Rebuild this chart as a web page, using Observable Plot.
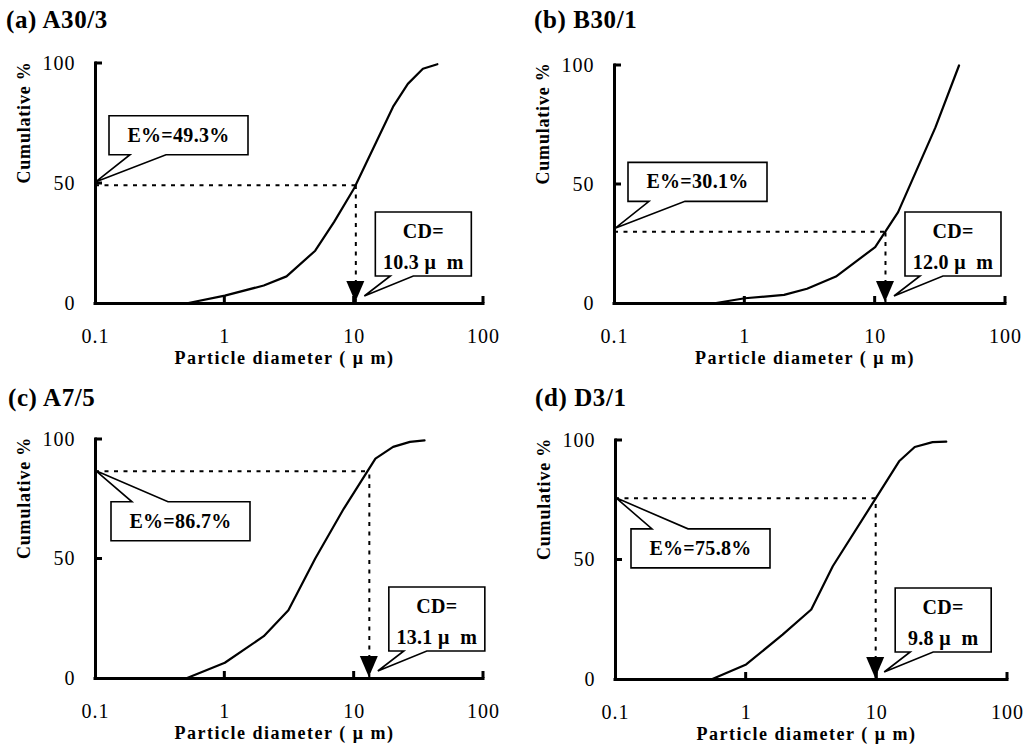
<!DOCTYPE html>
<html><head><meta charset="utf-8">
<script src="https://cdn.jsdelivr.net/npm/d3@7"></script>
<script src="https://cdn.jsdelivr.net/npm/@observablehq/plot@0.6"></script>
<style>
body{margin:0;background:#fff;}
#wrap{position:relative;width:1025px;height:752px;overflow:hidden;background:#fff;}
.panel{position:absolute;}
.ptitle{position:absolute;font-family:"Liberation Serif",serif;font-weight:bold;font-size:25px;line-height:24px;letter-spacing:0.6px;white-space:nowrap;color:#000;}
</style></head><body><div id="wrap"></div>
<script>
// ---- data ----
const panelLabels = ["(a) A30/3", "(b) B30/1", "(c) A7/5", "(d) D3/1"];
const diamA = [0.5, 1, 2, 3, 5, 7, 10, 20, 26, 34, 44];
const cumA  = [0, 3.3, 7.5, 11.3, 22, 34, 48, 82, 91.5, 97.8, 99.7];
const diamB = [0.57, 1, 2, 3, 5, 10, 15, 29, 44];
const cumB  = [0, 2.2, 3.6, 6.2, 11.3, 23.7, 38.4, 74, 100];
const diamC = [0.5, 1, 2, 3.1, 5, 8.3, 14.6, 20, 27, 35];
const cumC  = [0, 6.6, 17.7, 28.6, 50.2, 71, 92, 96.9, 99, 99.6];
const diamD = [0.54, 1, 1.9, 3.15, 4.6, 10, 14.8, 19.5, 26.7, 34];
const cumD  = [0, 6.3, 18.8, 29.3, 47.4, 76.5, 91.3, 97.3, 99.3, 99.5];
const ePercent = [49.3, 30.1, 86.7, 75.8];
const cdValues = [10.3, 12.0, 13.1, 9.8];
const xTicks = [0.1, 1, 10, 100];
const xInnerTicks = [1, 10, 100];
const yTicks = [0, 50, 100];
const yInnerTicks = [50, 100];
const xTitle = "Particle diameter ( \u03bc m)";
const yTitle = "Cumulative %";

const diams = [diamA, diamB, diamC, diamD];
const cums = [cumA, cumB, cumC, cumD];

// ---- layout ----
const layouts = [
  {left: 0,   top: 0,   width: 512, mL: 95,  mR: 29, mT: 63, mB: 73, tX: 6,  tY: 8,  eAbove: true},
  {left: 512, top: 0,   width: 513, mL: 102, mR: 20, mT: 65, mB: 73, tX: 22, tY: 8,  eAbove: true},
  {left: 0,   top: 376, width: 512, mL: 95,  mR: 29, mT: 63, mB: 74, tX: 8,  tY: 10, eAbove: false},
  {left: 512, top: 376, width: 513, mL: 103, mR: 18, mT: 64, mB: 73, tX: 23, tY: 10, eAbove: false}
];
// offsets in px relative to the callout tip; text baselines relative to box top
const eGeoAbove = {tip: [1, -3], bx: [13, 152], by: [-66, -27], tail: [34, 70], base: [26]};
const eGeoBelow = {tip: [1, 0], bx: [15, 154], by: [31, 70], tail: [36, 72], base: [26]};
const cdGeo = {tip: [9, -7], bx: [11, 107], by: [-84, -20], tail: [26, 49], base: [26, 57]};

function calloutMark(xv, yv, geo, lines) {
  return (index, {x, y}) => {
    const tx = x(xv) + geo.tip[0], ty = y(yv) + geo.tip[1];
    const [bx1, bx2] = geo.bx, [by1, by2] = geo.by, [t1, t2] = geo.tail;
    const pts = by2 < 0
      ? [[bx1, by1], [bx2, by1], [bx2, by2], [t2, by2], [0, 0], [t1, by2], [bx1, by2]]
      : [[bx1, by1], [t1, by1], [0, 0], [t2, by1], [bx2, by1], [bx2, by2], [bx1, by2]];
    const g = d3.create("svg:g").attr("transform", `translate(${tx},${ty})`);
    g.append("path")
      .attr("d", "M" + pts.map(p => p.join(",")).join("L") + "Z")
      .attr("fill", "white").attr("stroke", "black").attr("stroke-width", 1.6)
      .attr("stroke-linejoin", "miter");
    const cx = (bx1 + bx2) / 2;
    lines.forEach((s, i) => {
      g.append("text").attr("x", cx).attr("y", by1 + geo.base[i])
        .attr("text-anchor", "middle")
        .attr("font-family", "Liberation Serif, serif")
        .attr("font-weight", "bold").attr("font-size", 20)
        .attr("letter-spacing", "0.3px")
        .style("white-space", "pre")
        .text(s);
    });
    return g.node();
  };
}

function arrowHead(xv) {
  return (index, {x, y}) => {
    const px = x(xv), py = y(0) - 1;
    return d3.create("svg:path")
      .attr("d", `M${px - 9},${py - 21}L${px + 9},${py - 21}L${px},${py}Z`)
      .attr("fill", "black").node();
  };
}

// inward-pointing tick marks on both axes
function innerTicks(xs, ys, len) {
  return (index, {x, y}) => {
    const g = d3.create("svg:g").attr("stroke", "black").attr("stroke-width", 3);
    const x0 = x(0.1), y0 = y(0);
    xs.forEach(v => g.append("line").attr("x1", x(v)).attr("x2", x(v)).attr("y1", y0).attr("y2", y0 - len));
    ys.forEach(v => g.append("line").attr("y1", y(v)).attr("y2", y(v)).attr("x1", x0).attr("x2", x0 + len));
    return g.node();
  };
}

const wrap = document.getElementById("wrap");
layouts.forEach((L, i) => {
  const data = diams[i].map((d, j) => ({d, c: cums[i][j]}));
  const E = ePercent[i], CD = cdValues[i];
  const div = document.createElement("div");
  div.className = "panel";
  div.style.left = L.left + "px"; div.style.top = L.top + "px";
  div.style.width = L.width + "px"; div.style.height = "376px";
  const plot = Plot.plot({
    width: L.width, height: 376,
    marginLeft: L.mL, marginRight: L.mR, marginTop: L.mT, marginBottom: L.mB,
    style: {fontFamily: "Liberation Serif, serif", fontSize: "20px", background: "white", color: "black", overflow: "visible"},
    x: {type: "log", domain: [0.1, 100]},
    y: {domain: [0, 100]},
    marks: [
      Plot.ruleY([E], {x1: 0.1, x2: CD, stroke: "black", strokeWidth: 2, strokeDasharray: "4,5.5"}),
      Plot.ruleX([CD], {y1: 0, y2: E, stroke: "black", strokeWidth: 2, strokeDasharray: "4,5.5"}),
      Plot.line(data, {x: "d", y: "c", stroke: "black", strokeWidth: 2.2}),
      Plot.ruleY([0], {stroke: "black", strokeWidth: 3, strokeLinecap: "square"}),
      Plot.ruleX([0.1], {stroke: "black", strokeWidth: 3, strokeLinecap: "square"}),
      innerTicks(xInnerTicks, yInnerTicks, 7),
      Plot.axisX({ticks: xTicks, tickSize: 0, tickPadding: 25, tickFormat: d => String(d), label: null, fontSize: 20}),
      Plot.axisY({ticks: yTicks, tickSize: 0, tickPadding: 20, tickFormat: d => String(d), label: null, fontSize: 20}),
      Plot.text([xTitle], {frameAnchor: "bottom", dy: 60, dx: -5, fontWeight: "bold", fontSize: 18}),
      Plot.text([yTitle], {frameAnchor: "left", rotate: -90, dx: -71, fontWeight: "bold", fontSize: 18}),
      arrowHead(CD),
      calloutMark(0.1, E, L.eAbove ? eGeoAbove : eGeoBelow, [`E%=${E.toFixed(1)}%`]),
      calloutMark(CD, 0, cdGeo, ["CD=", `${CD.toFixed(1)} \u03bc\u00a0 m`])
    ]
  });
  d3.select(plot).selectAll("text").each(function () {
    const s = this.textContent;
    if (s === xTitle) this.setAttribute("letter-spacing", "1.5px");
    else if (s === yTitle) this.setAttribute("letter-spacing", "0.8px");
    else if (["0.1", "1", "10", "100", "0", "50"].includes(s)) this.setAttribute("letter-spacing", "1px");
  });
  div.appendChild(plot);
  const t = document.createElement("div");
  t.className = "ptitle";
  t.style.left = L.tX + "px"; t.style.top = L.tY + "px";
  t.textContent = panelLabels[i];
  div.appendChild(t);
  wrap.appendChild(div);
});
</script>
</body></html>
